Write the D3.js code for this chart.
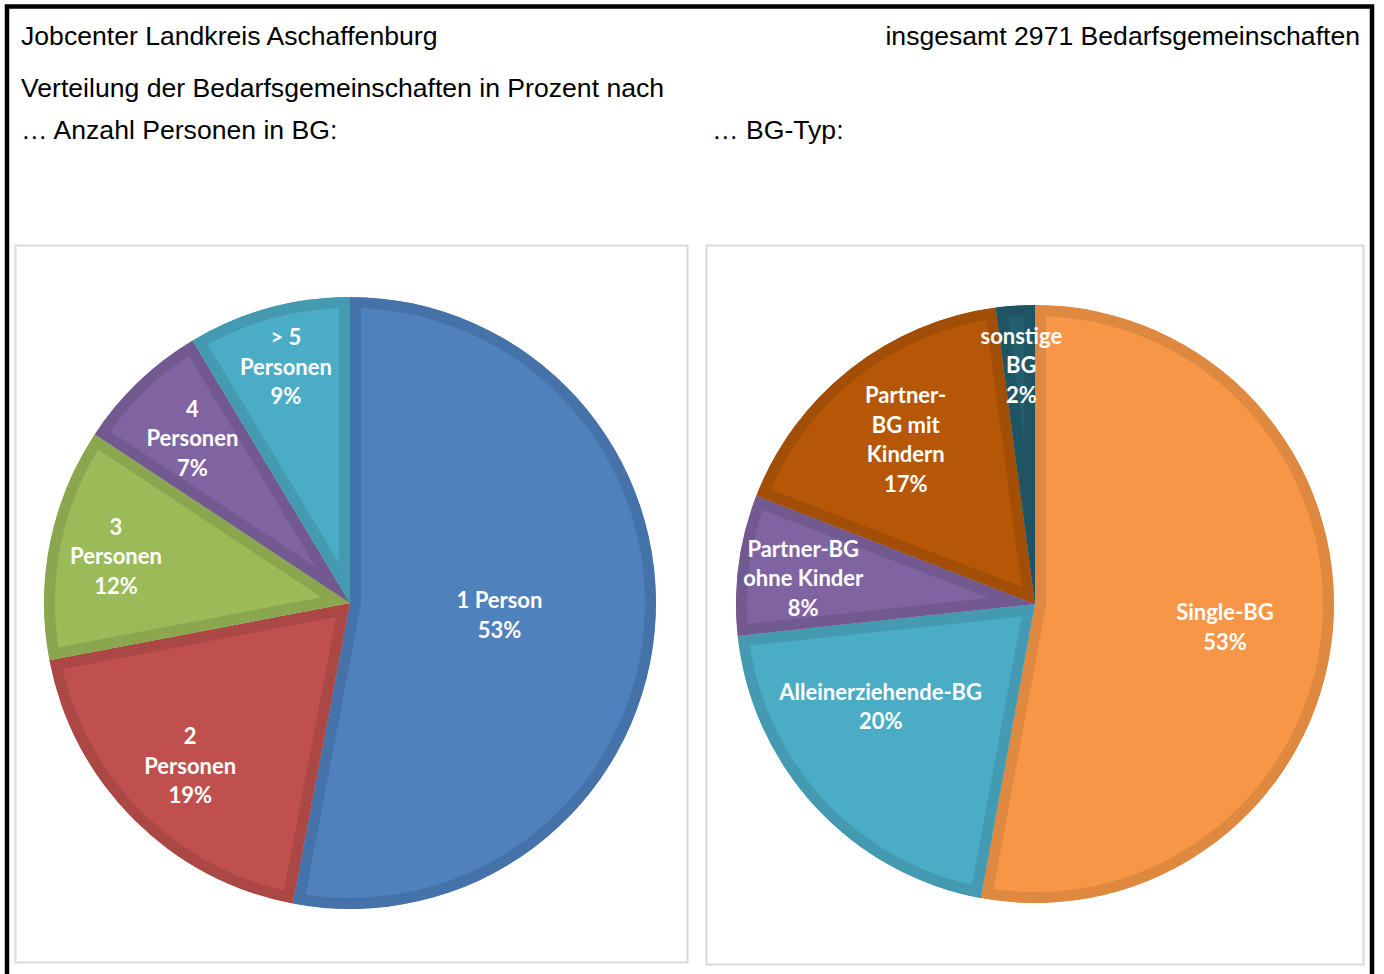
<!DOCTYPE html>
<html><head><meta charset="utf-8">
<script src="https://cdn.jsdelivr.net/npm/d3@7"></script>
<style>body{margin:0;background:#fff}svg{display:block}</style>
</head><body><svg id="c" width="1384" height="974"></svg>
<script>
// ---- data ----
const leftCategories = ["1 Person", "2 Personen", "3 Personen", "4 Personen", "> 5 Personen"];
const leftLabelLines = [["1 Person"], ["2", "Personen"], ["3", "Personen"], ["4", "Personen"], ["> 5", "Personen"]];
const leftValues = [53.0, 19.0, 12.3, 7.1, 8.6];

const rightCategories = ["Single-BG", "Alleinerziehende-BG", "Partner-BG ohne Kinder", "Partner-BG mit Kindern", "sonstige BG"];
const rightLabelLines = [["Single-BG"], ["Alleinerziehende-BG"], ["Partner-BG", "ohne Kinder"], ["Partner-", "BG mit", "Kindern"], ["sonstige", "BG"]];
const rightValues = [52.9, 20.4, 7.6, 17.0, 2.1];

const titleTexts = ["Jobcenter Landkreis Aschaffenburg", "insgesamt 2971 Bedarfsgemeinschaften",
  "Verteilung der Bedarfsgemeinschaften in Prozent nach", "\u2026 Anzahl Personen in BG:", "\u2026 BG-Typ:"];

// ---- styles ----
const leftFill = ["#4F81BD", "#C0504D", "#9BBB59", "#8064A2", "#4BACC6"];
const leftBand = ["#4672AA", "#AB4744", "#8AA74F", "#725A91", "#439AB1"];
const rightFill = ["#F79646", "#4BACC6", "#8064A2", "#B65708", "#235F6E"];
const rightBand = ["#DF883F", "#439AB1", "#725A91", "#A24E07", "#1F5562"];
// label placement: [radius fraction, angle nudge in degrees]
const leftLabelLayout = [[0.49, -0.8], [0.745, -0.5], [0.78, 0], [0.745, 0], [0.80, 0.3]];
const rightLabelLayout = [[0.64, 1.7], [0.62, 9.2], [0.78, -1.2], [0.70, 0], [0.80, 0.5]];

const svg = d3.select("#c");

// outer black frame
svg.append("rect").attr("x", 7).attr("y", 6.5).attr("width", 1365).attr("height", 990)
  .attr("fill", "none").attr("stroke", "#000").attr("stroke-width", 4.5);

// titles
const tf = "'Liberation Sans', Arial, sans-serif";
const T = (x, y, s, anchor) => svg.append("text").attr("x", x).attr("y", y).text(s)
  .attr("font-family", tf).attr("font-size", 26.6).attr("fill", "#000").attr("text-anchor", anchor || "start");
T(21, 45, titleTexts[0]);
T(1360, 45, titleTexts[1], "end");
T(21, 97, titleTexts[2]);
T(21, 139, titleTexts[3]);
T(712, 139, titleTexts[4]);

// panels
svg.append("rect").attr("x", 15.5).attr("y", 245.5).attr("width", 672).attr("height", 717)
  .attr("fill", "#fff").attr("stroke", "#D9D9D9").attr("stroke-width", 2);
svg.append("rect").attr("x", 706.5).attr("y", 245.5).attr("width", 657).attr("height", 719)
  .attr("fill", "#fff").attr("stroke", "#D9D9D9").attr("stroke-width", 2);

function drawPie(id, cx, cy, R, values, lines, fills, bands, layout) {
  const pie = d3.pie().sort(null).value(d => d).startAngle(0).endAngle(2 * Math.PI);
  const arcs = pie(values);
  const arc = d3.arc().innerRadius(0).outerRadius(R);
  const g = svg.append("g").attr("transform", `translate(${cx},${cy})`);
  const defs = svg.append("defs");
  arcs.forEach((a, i) => {
    defs.append("clipPath").attr("id", `${id}-clip-${i}`)
      .append("path").attr("d", arc(a));
  });
  g.selectAll("path.slice").data(arcs).join("path")
    .attr("class", "slice")
    .attr("d", arc)
    .attr("fill", (d, i) => fills[i])
    .attr("stroke", (d, i) => bands[i])
    .attr("stroke-width", 22)
    .attr("stroke-linejoin", "miter")
    .attr("clip-path", (d, i) => `url(#${id}-clip-${i})`);

  const lh = 29.5;
  arcs.forEach((a, i) => {
    const ang = (a.startAngle + a.endAngle) / 2 + layout[i][1] * Math.PI / 180;
    const r = R * layout[i][0];
    const x = r * Math.sin(ang), y = -r * Math.cos(ang);
    const txt = lines[i].concat([Math.round(values[i]) + "%"]);
    const t = g.append("text").attr("text-anchor", "middle")
      .attr("font-family", "Lato, 'Open Sans', sans-serif").attr("font-weight", 700)
      .attr("font-size", 22).attr("fill", "#fff");
    txt.forEach((s, k) => {
      t.append("tspan").attr("x", x).attr("y", y + (k - (txt.length - 1) / 2) * lh).attr("dy", "0.36em").text(s);
    });
  });
}

drawPie("L", 350, 603, 306, leftValues, leftLabelLines, leftFill, leftBand, leftLabelLayout);
drawPie("R", 1035, 604, 299, rightValues, rightLabelLines, rightFill, rightBand, rightLabelLayout);
</script></body></html>
